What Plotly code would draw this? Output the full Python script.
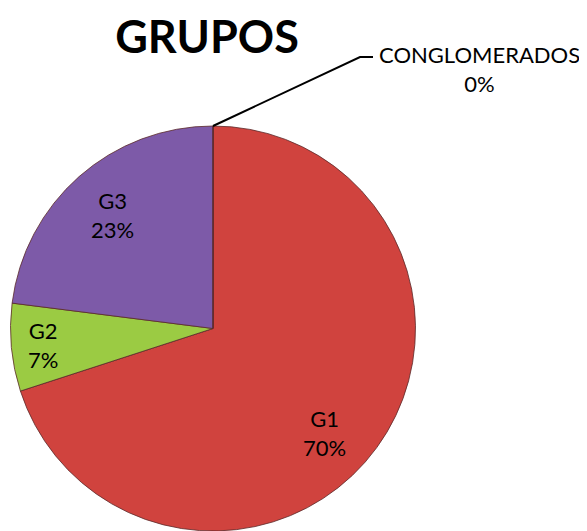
import math
import plotly.graph_objects as go

# data
labels = ["G1", "G2", "G3", "CONGLOMERADOS"]
values = [70, 7, 23, 0]
colors = ["#D0433E", "#9BCB43", "#7D5AA8", "#4BACC6"]

W, H = 587, 531
OFF = 8  # page body margin
FW, FH = W - OFF, H - OFF


def px(x):
    return (x - OFF) / FW


def py(y):
    return 1 - (y - OFF) / FH


# pie geometry in page pixels
CX, CY, R = 213, 329, 203
FONT = "Lato, Calibri, sans-serif"

fig = go.Figure()

fig.add_trace(go.Pie(
    labels=labels,
    values=values,
    sort=False,
    direction="clockwise",
    rotation=0,
    marker=dict(colors=colors, line=dict(color="#5a2a2a", width=0.8)),
    textinfo="none",
    showlegend=False,
    hoverinfo="label+percent",
    domain=dict(x=[px(CX - R), px(CX + R)], y=[max(0, py(CY + R)), py(CY - R)]),
))

# slice labels near the bisector of each slice
total = sum(values)
label_r = [0.75, 0.84, 0.75]
label_shift = [7, 0, 0]  # degrees
start = 0.0
for i, (lab, v) in enumerate(zip(labels, values)):
    span = 360.0 * v / total
    if v > 0:
        ang = math.radians(start + span / 2 + label_shift[i])
        x = CX + label_r[i] * R * math.sin(ang)
        y = CY - label_r[i] * R * math.cos(ang)
        fig.add_annotation(
            x=px(x), y=py(y), xref="paper", yref="paper",
            text=f"{lab}<br>{round(100 * v / total)}%",
            showarrow=False, xanchor="center", yanchor="middle",
            font=dict(family=FONT, size=22, color="black"),
        )
    start += span

# label for the zero slice with its leader line
fig.add_annotation(
    x=px(479), y=py(69), xref="paper", yref="paper",
    text=f"{labels[3]}<br>{values[3]}%",
    showarrow=False, xanchor="center", yanchor="middle",
    font=dict(family=FONT, size=22, color="black"),
)
fig.add_shape(
    type="path", xref="paper", yref="paper",
    path=f"M {px(CX)} {py(CY - R)} L {px(360)} {py(57)} L {px(373)} {py(57)}",
    line=dict(color="black", width=2),
)

fig.update_layout(
    width=FW, height=FH,
    margin=dict(l=0, r=0, t=0, b=0),
    paper_bgcolor="white",
    plot_bgcolor="white",
    title=dict(
        text="<b>GRUPOS</b>",
        x=px(207), xanchor="center",
        y=py(37), yanchor="middle",
        font=dict(family=FONT, size=45, color="black"),
    ),
)

fig.write_html("out.html")
